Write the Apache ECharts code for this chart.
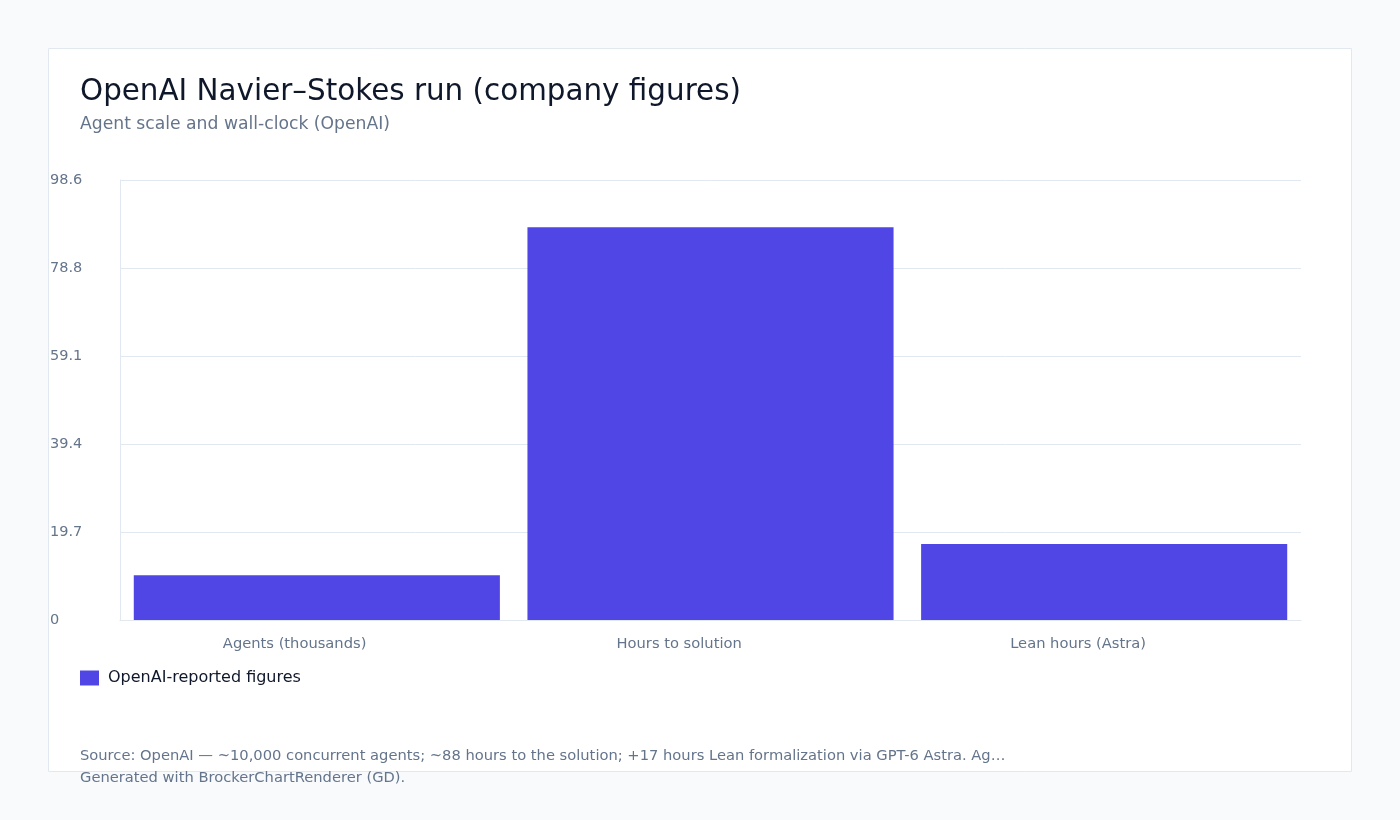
<!DOCTYPE html>
<html lang="en" style="height: 100%">
<head>
  <meta charset="utf-8">
</head>
<body style="height: 100%; margin: 0; background: #f8fafc">
  <div id="container" style="width: 1400px; height: 820px"></div>
  <script type="text/javascript" src="https://fastly.jsdelivr.net/npm/echarts@6.0.0/dist/echarts.min.js"></script>
  <script type="text/javascript">
    // chart data
    var categories = ['Agents (thousands)', 'Hours to solution', 'Lean hours (Astra)'];
    var seriesName = 'OpenAI-reported figures';
    var values = [10, 88, 17];
    var axisMax = 98.56;
    var tickCount = 5;

    var font = 'DejaVu Sans';
    var dom = document.getElementById('container');
    var myChart = echarts.init(dom, null, { renderer: 'canvas' });

    var option = {
      backgroundColor: '#f8fafc',
      textStyle: { fontFamily: font },
      animation: false,
      graphic: [
        {
          type: 'rect',
          z: -10,
          shape: { x: 48.5, y: 48.5, width: 1303, height: 723 },
          style: { fill: '#ffffff', stroke: '#e2e8f0', lineWidth: 1 }
        },
        {
          type: 'text',
          left: 80, top: 749,
          style: {
            text: 'Source: OpenAI — ~10,000 concurrent agents; ~88 hours to the solution; +17 hours Lean formalization via GPT-6 Astra. Ag…',
            fill: '#64748b', font: '14.7px "DejaVu Sans"'
          }
        },
        {
          type: 'text',
          left: 80, top: 771,
          style: {
            text: 'Generated with BrockerChartRenderer (GD).',
            fill: '#64748b', font: '14.7px "DejaVu Sans"'
          }
        }
      ],
      title: {
        text: 'OpenAI Navier–Stokes run (company figures)',
        subtext: 'Agent scale and wall-clock (OpenAI)',
        left: 75,
        top: 73,
        itemGap: 9,
        textStyle: { fontFamily: font, fontSize: 29.4, fontWeight: 'normal', color: '#0f172a' },
        subtextStyle: { fontFamily: font, fontSize: 17.2, color: '#64748b' }
      },
      legend: {
        left: 75,
        top: 665,
        itemWidth: 19,
        itemHeight: 15,
        itemGap: 20,
        icon: 'rect',
        textStyle: { fontFamily: font, fontSize: 16, color: '#0f172a', padding: [0, 0, 3, 4] },
        data: [seriesName]
      },
      grid: {
        left: 120,
        right: 99,
        top: 180,
        bottom: 200,
        containLabel: false
      },
      xAxis: {
        type: 'category',
        data: categories,
        axisLine: { show: true, lineStyle: { color: '#e2e8f0' } },
        axisTick: { show: false },
        axisLabel: {
          color: '#64748b',
          fontSize: 14.7,
          margin: 17,
          fontFamily: font,
          align: 'center',
          formatter: function (v) { return '{a|' + v + '}'; },
          rich: {
            a: { width: 188, align: 'left', color: '#64748b', fontSize: 14.7, fontFamily: font }
          }
        }
      },
      yAxis: {
        type: 'value',
        min: 0,
        max: axisMax,
        interval: axisMax / tickCount,
        axisLine: { show: true, lineStyle: { color: '#e2e8f0' } },
        axisTick: { show: false },
        splitLine: { lineStyle: { color: '#e2e8f0' } },
        axisLabel: {
          color: '#64748b',
          fontSize: 14.5,
          fontFamily: font,
          align: 'left',
          margin: 70,
          verticalAlign: 'middle',
          padding: [0, 0, 3, 0],
          formatter: function (v) { return v === 0 ? '0' : v.toFixed(1); }
        }
      },
      series: [
        {
          name: seriesName,
          type: 'bar',
          data: values,
          barWidth: '93%',
          itemStyle: { color: '#5046e5' }
        }
      ]
    };

    myChart.setOption(option);
    window.addEventListener('resize', myChart.resize);
  </script>
</body>
</html>
